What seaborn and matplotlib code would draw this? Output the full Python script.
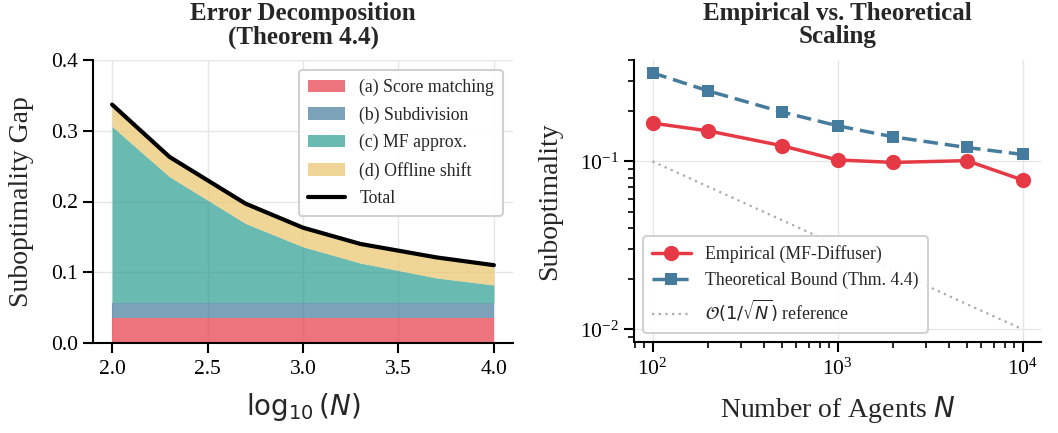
import numpy as np
import pandas as pd
import matplotlib
matplotlib.use("Agg")
import matplotlib.pyplot as plt
import seaborn as sns

# ---- data ----
N = [100, 200, 500, 1000, 2000, 5000, 10000]
logN = [2.0, 2.301, 2.699, 3.0, 3.301, 3.699, 4.0]
score_matching = [0.035, 0.035, 0.035, 0.035, 0.035, 0.035, 0.035]
subdivision = [0.022, 0.022, 0.022, 0.022, 0.022, 0.022, 0.022]
mf_approx = [0.249, 0.178, 0.112, 0.079, 0.056, 0.035, 0.025]
offline_shift = [0.031, 0.028, 0.028, 0.027, 0.027, 0.029, 0.028]
total = [0.337, 0.263, 0.197, 0.163, 0.140, 0.121, 0.110]
empirical = [0.169, 0.152, 0.124, 0.102, 0.0986, 0.101, 0.0775]
theoretical = [0.337, 0.263, 0.197, 0.163, 0.140, 0.121, 0.110]
reference = [0.1, 0.0707, 0.0447, 0.0316, 0.0224, 0.0141, 0.01]
area_labels = ["(a) Score matching", "(b) Subdivision", "(c) MF approx.", "(d) Offline shift"]

RED, BLUE, TEAL, YELLOW = "#E63946", "#457B9D", "#2A9D8F", "#E9C46A"

sns.set_style("ticks")
plt.rcParams["font.family"] = ["Liberation Serif", "DejaVu Serif"]
plt.rcParams["mathtext.fontset"] = "dejavusans"
plt.rcParams["axes.linewidth"] = 1.5
plt.rcParams["xtick.major.width"] = 1.5
plt.rcParams["ytick.major.width"] = 1.5
plt.rcParams["xtick.minor.width"] = 1.2
plt.rcParams["ytick.minor.width"] = 1.2
plt.rcParams["xtick.major.size"] = 7
plt.rcParams["ytick.major.size"] = 7
plt.rcParams["xtick.minor.size"] = 4
plt.rcParams["ytick.minor.size"] = 4
plt.rcParams["xtick.major.pad"] = 5
plt.rcParams["ytick.major.pad"] = 4
plt.rcParams["axes.edgecolor"] = "black"
plt.rcParams["xtick.color"] = "black"
plt.rcParams["ytick.color"] = "black"

fig = plt.figure(figsize=(10.58, 4.33), dpi=100)
H = 433.0
W = 1058.0
ax1 = fig.add_axes([93 / W, 1 - 343 / H, (513 - 93) / W, (343 - 60) / H])
ax2 = fig.add_axes([634 / W, 1 - 342 / H, (1041 - 634) / W, (342 - 60) / H])

TICK_FS = 15.5
LABEL_FS = 20
TITLE_FS = 18
LEG_FS = 12.8

# ---- left: stacked area ----
ax1.stackplot(logN, score_matching, subdivision, mf_approx, offline_shift,
              colors=[RED, BLUE, TEAL, YELLOW], alpha=0.7, labels=area_labels,
              linewidth=0)
sns.lineplot(x=logN, y=total, ax=ax1, color="black", linewidth=3, label="Total")
ax1.set_xlim(1.9, 4.1)
ax1.set_ylim(0, 0.4)
ax1.set_xticks([2.0, 2.5, 3.0, 3.5, 4.0])
ax1.set_yticks([0.0, 0.1, 0.2, 0.3, 0.4])
ax1.grid(True, color="#e6e6e6", linewidth=1)
ax1.set_axisbelow(True)
ax1.tick_params(labelsize=TICK_FS)
ax1.set_xlabel(r"$\log_{10}(N)$", fontsize=LABEL_FS, labelpad=9)
ax1.set_ylabel("Suboptimality Gap", fontsize=LABEL_FS, labelpad=12)
ax1.set_title("Error Decomposition\n(Theorem 4.4)", fontsize=TITLE_FS, fontweight="bold",
              linespacing=1.0, pad=12)
leg1 = ax1.legend(loc="upper right", fontsize=LEG_FS, frameon=True, fancybox=True,
                  framealpha=0.9, borderpad=0.5, labelspacing=0.58, handlelength=2.1,
                  borderaxespad=0, bbox_to_anchor=(0.976, 0.965))
leg1.get_frame().set_edgecolor("#cccccc")
leg1.get_frame().set_linewidth(1.5)
sns.despine(ax=ax1)

# ---- right: log-log scaling ----
sns.lineplot(x=N, y=empirical, ax=ax2, color=RED, linewidth=2.5, marker="o",
             markersize=11, markeredgewidth=0, label="Empirical (MF-Diffuser)")
sns.lineplot(x=N, y=theoretical, ax=ax2, color=BLUE, linewidth=2.5, marker="s",
             markersize=9, markeredgewidth=0, linestyle=(0, (4.2, 2)),
             label="Theoretical Bound (Thm. 4.4)")
sns.lineplot(x=N, y=reference, ax=ax2, color="#aaaaaa", linewidth=1.6,
             linestyle=(0, (1, 2)), label=r"$\mathcal{O}(1/\sqrt{N})$ reference")
ax2.set_xscale("log")
ax2.set_yscale("log")
ax2.set_xlim(10 ** 1.9, 10 ** 4.1)
ax2.set_ylim(10 ** -2.076, 10 ** -0.396)
ax2.grid(True, which="major", color="#e6e6e6", linewidth=1)
ax2.grid(False, which="minor")
ax2.set_axisbelow(True)
ax2.tick_params(labelsize=TICK_FS)
ax2.set_xlabel(r"Number of Agents $N$", fontsize=LABEL_FS, labelpad=10)
ax2.set_ylabel("Suboptimality", fontsize=LABEL_FS, labelpad=13)
ax2.set_title("Empirical vs. Theoretical\nScaling", fontsize=TITLE_FS, fontweight="bold",
              linespacing=1.0, pad=12)
leg2 = ax2.legend(loc="lower left", fontsize=LEG_FS, frameon=True, fancybox=True,
                  framealpha=0.9, borderpad=0.5, labelspacing=0.5, handlelength=2.2,
                  borderaxespad=0, bbox_to_anchor=(0.022, 0.032))
leg2.get_frame().set_edgecolor("#cccccc")
leg2.get_frame().set_linewidth(1.5)
sns.despine(ax=ax2)

fig.savefig("out.png", dpi=100)
